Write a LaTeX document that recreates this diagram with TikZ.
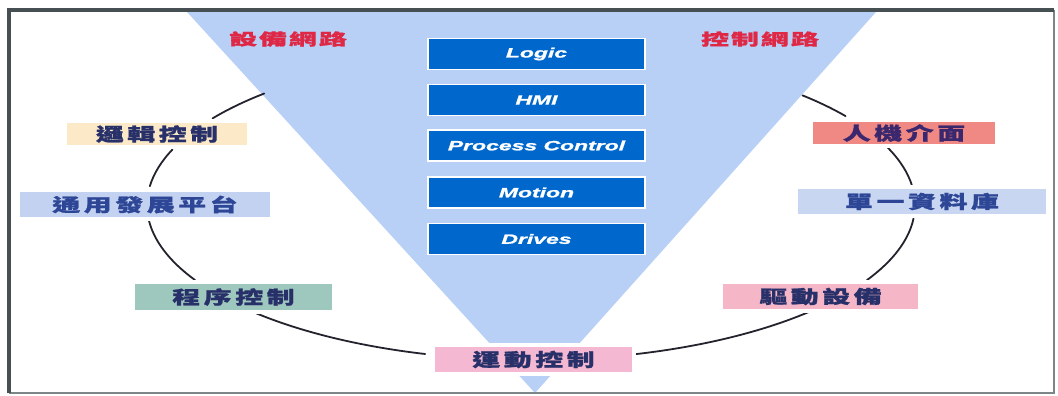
\documentclass[tikz,border=0pt]{standalone}
\usepackage{fontspec}
\newfontfamily\cjk{Noto Sans CJK TC}[FakeStretch=1.55, LetterSpace=20, FakeBold=1.2]
\newfontfamily\cjkw{Noto Sans CJK TC}[FakeStretch=1.75, LetterSpace=12, FakeBold=1]
\newfontfamily\lat{Liberation Sans}[FakeStretch=1.7, FakeBold=1.5]
\definecolor{tri}{RGB}{184,208,245}
\definecolor{boxblue}{RGB}{0,104,204}
\definecolor{redtxt}{RGB}{222,40,70}
\definecolor{navy}{RGB}{40,48,105}
\definecolor{bluetxt}{RGB}{45,70,150}
\definecolor{fillA}{RGB}{252,233,200}
\definecolor{fillB}{RGB}{196,210,242}
\definecolor{fillC}{RGB}{158,200,190}
\definecolor{fillD}{RGB}{244,184,210}
\definecolor{fillE}{RGB}{245,182,200}
\definecolor{fillF}{RGB}{200,214,242}
\definecolor{fillG}{RGB}{240,136,132}
\definecolor{framec}{RGB}{70,80,82}
\definecolor{linec}{RGB}{35,35,45}
\tikzset{
  bbox/.style={draw=white, line width=1.2pt, fill=boxblue, minimum width=217pt, minimum height=31pt,
    inner sep=0pt, text=white, font=\lat\bfseries\itshape\fontsize{13.5}{14}\selectfont},
  redlbl/.style={inner sep=0pt, text=redtxt, font=\cjkw\bfseries\fontsize{16}{17}\selectfont},
  lbl/.style={inner sep=0pt, preaction={draw=white, line width=8pt},
    font=\cjk\bfseries\fontsize{18}{19}\selectfont},
  conn/.style={draw=linec, line width=1.8pt, line cap=round},
}
\begin{document}
\begin{tikzpicture}[x=1pt,y=-1pt]
\useasboundingbox (0,0) rectangle (1058,396);
% inverted triangle
\fill[tri] (187,12) -- (876,12) -- (535,393) -- cycle;
% blue stack
\node[bbox] (b1) at (536.5,54) {Logic};
\node[bbox] (b2) at (536.5,100) {HMI};
\node[bbox] (b3) at (536.5,145.5) {Process Control};
\node[bbox] (b4) at (536.5,192.5) {Motion};
\node[bbox] (b5) at (536.5,239) {Drives};
% network labels
\node[redlbl] (net1) at (288,39) {設備網路};
\node[redlbl] (net2) at (760,39) {控制網路};
% ellipse connectors
\foreach \n/\s/\e in {1/214/226, 2/187/201, 3/151/175, 4/106/136, 5/43/75, 6/5/29, 7/-22/-7, 8/-45/-35}{
  \coordinate (s\n) at ({531+384*cos(\s)},{205+155*sin(\s)});
  \draw[conn] (s\n) arc[start angle=-\s, end angle=-\e, x radius=384pt, y radius=155pt];
}
% labels
\node[lbl, fill=fillA, text=navy, minimum width=180pt, minimum height=22pt] (logic) at (157,134) {邏輯控制};
\node[lbl, fill=fillB, text=bluetxt, minimum width=250pt, minimum height=25pt] (plat) at (145,204.5) {通用發展平台};
\node[lbl, fill=fillC, text=navy, minimum width=197pt, minimum height=26pt] (prog) at (233.5,297) {程序控制};
\node[lbl, fill=fillD, text=navy, minimum width=197pt, minimum height=25pt] (motion) at (533.5,359.5) {運動控制};
\node[lbl, fill=fillE, text=navy, minimum width=195pt, minimum height=25pt] (drive) at (820.5,296.5) {驅動設備};
\node[lbl, fill=fillF, text=bluetxt, minimum width=248pt, minimum height=25pt] (db) at (922,201.5) {單一資料庫};
\node[lbl, fill=fillG, text=navy!80!violet, minimum width=182pt, minimum height=22pt] (hmi) at (904,133) {人機介面};
% frame
\draw[framec!70!white, line width=2.5pt] (1054,10) -- (1054,393) -- (9,393);
\draw[framec, line width=3.5pt] (9,393) -- (9,10) -- (1054,10);
\end{tikzpicture}
\end{document}
